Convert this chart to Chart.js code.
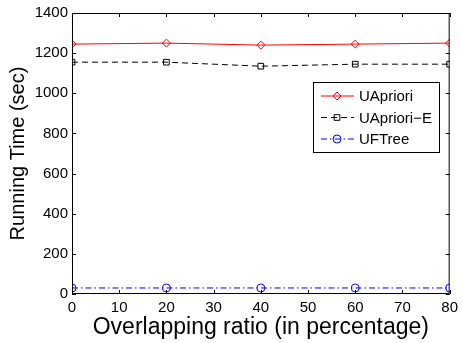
<!DOCTYPE html>
<html>
<head>
<meta charset="utf-8">
<script src="https://cdn.jsdelivr.net/npm/chart.js@4.4.0/dist/chart.umd.min.js"></script>
<style>
  html, body { margin: 0; padding: 0; background: #fff; }
  canvas { display: block; }
</style>
</head>
<body>
<canvas id="runtime" width="463" height="343"></canvas>
<script>
const ratios = [0, 20, 40, 60, 80];
const uapriori = [1245, 1250, 1240, 1245, 1250];
const uaprioriE = [1155, 1155, 1135, 1145, 1145];
const uftree = [30, 30, 30, 30, 30];
const xTicks = [0, 10, 20, 30, 40, 50, 60, 70, 80];
const yTicks = [0, 200, 400, 600, 800, 1000, 1200, 1400];

const FONT = 'Arial, "Liberation Sans", Helvetica, sans-serif';

const series = [
    { label: 'UApriori', data: uapriori, color: '#ff0000', dash: [], style: 'rectRot', radius: 4 },
    { label: 'UApriori\u2212E', data: uaprioriE, color: '#000000', dash: [6, 4], style: 'rect', radius: 4 },
    { label: 'UFTree', data: uftree, color: '#0000ff', dash: [6, 3, 1.5, 3], style: 'circle', radius: 4 }
];

// box round the plot, inward ticks on all four sides, legend inside the plot
const framePlugin = {
    id: 'frame',
    afterDraw(chart) {
        const { ctx, chartArea: a, scales } = chart;
        ctx.save();
        ctx.strokeStyle = '#000';
        ctx.lineWidth = 1;
        ctx.setLineDash([]);
        ctx.strokeRect(a.left + 0.5, a.top + 0.5, a.right - a.left - 1, a.bottom - a.top - 1);
        ctx.beginPath();
        xTicks.forEach(v => {
            const x = Math.round(scales.x.getPixelForValue(v)) + 0.5;
            ctx.moveTo(x, a.bottom); ctx.lineTo(x, a.bottom - 4);
            ctx.moveTo(x, a.top); ctx.lineTo(x, a.top + 4);
        });
        yTicks.forEach(v => {
            const y = Math.round(scales.y.getPixelForValue(v)) + 0.5;
            ctx.moveTo(a.left, y); ctx.lineTo(a.left + 4, y);
            ctx.moveTo(a.right, y); ctx.lineTo(a.right - 4, y);
        });
        ctx.stroke();

        // legend
        const lx = 313, ly = 82, lw = 126, lh = 70;
        ctx.fillStyle = '#fff';
        ctx.fillRect(lx, ly, lw, lh);
        ctx.strokeRect(lx + 0.5, ly + 0.5, lw, lh);
        ctx.font = '15px ' + FONT;
        ctx.textBaseline = 'middle';
        series.forEach((s, i) => {
            const y = ly + 14 + i * 21.5;
            ctx.strokeStyle = s.color;
            ctx.setLineDash(s.dash);
            ctx.beginPath();
            ctx.moveTo(lx + 8, y); ctx.lineTo(lx + 41, y);
            ctx.stroke();
            ctx.setLineDash([]);
            ctx.fillStyle = 'rgba(0,0,0,0)';
            Chart.helpers.drawPoint(ctx, {
                pointStyle: s.style, radius: s.radius, borderWidth: 1, rotation: 0
            }, lx + 24, y);
            ctx.fillStyle = '#000';
            ctx.fillText(s.label, lx + 46, y + 1);
        });
        ctx.restore();
    }
};

new Chart(document.getElementById('runtime'), {
    type: 'line',
    data: {
        datasets: series.map(s => ({
            label: s.label,
            data: ratios.map((r, i) => ({ x: r, y: s.data[i] })),
            borderColor: s.color,
            backgroundColor: 'rgba(0,0,0,0)',
            borderWidth: 1,
            borderDash: s.dash,
            pointStyle: s.style,
            pointRadius: s.radius,
            pointBorderColor: s.color,
            pointBackgroundColor: 'rgba(0,0,0,0)',
            pointBorderWidth: 1,
            tension: 0
        }))
    },
    options: {
        responsive: false,
        animation: false,
        devicePixelRatio: 1,
        layout: { padding: { top: 13, right: 10, left: 0, bottom: 0 } },
        plugins: { legend: { display: false }, tooltip: { enabled: false } },
        scales: {
            x: {
                type: 'linear',
                min: 0,
                max: 80,
                afterBuildTicks: axis => { axis.ticks = xTicks.map(v => ({ value: v })); },
                afterFit: axis => { axis.height = 49; },
                grid: { display: false, drawTicks: false },
                border: { display: false },
                ticks: { color: '#000', font: { family: FONT, size: 15 }, padding: 5, maxRotation: 0,
                         callback: v => String(v) },
                title: {
                    display: true,
                    text: 'Overlapping ratio (in percentage)',
                    color: '#000',
                    font: { family: FONT, size: 23 },
                    padding: { top: 0, bottom: 2 }
                }
            },
            y: {
                min: 0,
                max: 1400,
                afterBuildTicks: axis => { axis.ticks = yTicks.map(v => ({ value: v })); },
                afterFit: axis => { axis.width = 72; },
                grid: { display: false, drawTicks: false },
                border: { display: false },
                ticks: { color: '#000', font: { family: FONT, size: 15 }, padding: 4,
                         callback: v => String(v) },
                title: {
                    display: true,
                    text: 'Running Time (sec)',
                    color: '#000',
                    font: { family: FONT, size: 20 },
                    padding: { top: 6, bottom: 0 }
                }
            }
        }
    },
    plugins: [framePlugin]
});
</script>
</body>
</html>
